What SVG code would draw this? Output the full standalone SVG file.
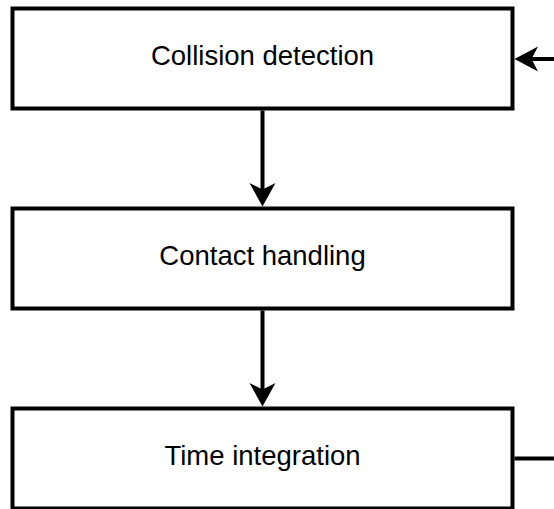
<svg xmlns="http://www.w3.org/2000/svg" width="554" height="509" viewBox="0 0 554 509">
<style>
.box{fill:#fff;stroke:#000;stroke-width:4}
.lbl{font-family:"Liberation Sans",Arial,sans-serif;font-size:27.5px;fill:#000;text-anchor:middle}
.edge{fill:none;stroke:#000;stroke-width:4}
.head{fill:#000;stroke:none}
</style>
<rect width="554" height="509" fill="#fff"/>
<g id="collision-detection">
<rect class="box" x="12.5" y="8.5" width="500" height="100"/>
<text class="lbl" x="262.5" y="64.5">Collision detection</text>
</g>
<g id="contact-handling">
<rect class="box" x="12.5" y="208.5" width="500" height="100"/>
<text class="lbl" x="262.5" y="264.5">Contact handling</text>
</g>
<g id="time-integration">
<rect class="box" x="12.5" y="408.5" width="500" height="100"/>
<text class="lbl" x="262.5" y="464.5">Time integration</text>
</g>
<g id="connectors">
<path class="edge" d="M262.5 110.5 V190"/>
<path class="head" d="M262.5 206.5 L249.5 183 L262.5 189.5 L275.5 183 Z"/>
<path class="edge" d="M262.5 310.5 V390"/>
<path class="head" d="M262.5 406.5 L249.5 383 L262.5 389.5 L275.5 383 Z"/>
<path class="edge" d="M514.5 458.5 H556"/>
<path class="edge" d="M556 59 H531"/>
<path class="head" d="M514.5 59 L538 46.5 L531.5 59 L538 71.5 Z"/>
</g>
</svg>
